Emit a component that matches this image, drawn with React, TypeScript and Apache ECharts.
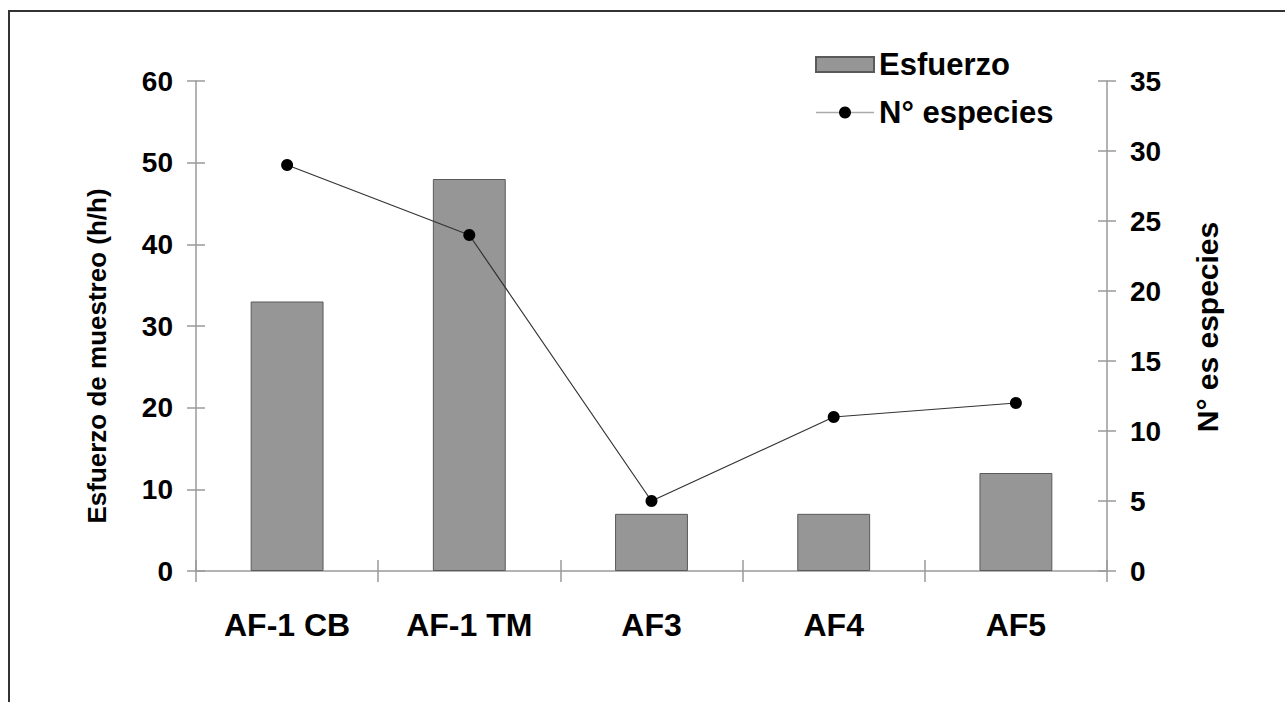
import React, { useEffect, useRef } from "react";
import * as echarts from "echarts";

const categories = ["AF-1 CB", "AF-1 TM", "AF3", "AF4", "AF5"];
const esfuerzo = [33, 48, 7, 7, 12];
const especies = [29, 24, 5, 11, 12];
const leftAxis = { min: 0, max: 60, interval: 10 };
const rightAxis = { min: 0, max: 35, interval: 5 };
const leftTitle = "Esfuerzo de muestreo (h/h)";
const rightTitle = "N° es especies";
const barName = "Esfuerzo";
const lineName = "N° especies";

const FONT = '"Liberation Sans", Arial, Helvetica, sans-serif';
const AXIS_COLOR = "#9a9a9a";

export default function App() {
  const ref = useRef<HTMLDivElement>(null);
  useEffect(() => {
    if (!ref.current) return;
    const chart = echarts.init(ref.current, undefined, { renderer: "svg" });
    const labelStyle = { color: "#000", fontWeight: "bold" as const, fontFamily: FONT };
    chart.setOption({
      animation: false,
      backgroundColor: "#fff",
      grid: { left: 196, right: 178, top: 81, bottom: 131, containLabel: false },
      legend: {
        orient: "vertical",
        left: 810,
        top: 44,
        itemWidth: 58,
        itemHeight: 15,
        itemGap: 17,
        textStyle: { ...labelStyle, fontSize: 31 },
        data: [
          { name: barName, icon: "rect" },
          { name: lineName, lineStyle: { color: "#aaaaaa", width: 1.5 } },
        ],
      },
      xAxis: [
        {
          type: "category",
          data: categories,
          position: "bottom",
          boundaryGap: true,
          axisLine: { show: true, lineStyle: { color: AXIS_COLOR, width: 1.5 } },
          axisTick: { show: true, inside: false, length: 11, lineStyle: { color: AXIS_COLOR, width: 1.5 } },
          axisLabel: { ...labelStyle, fontSize: 32, margin: 38 },
          splitLine: { show: false },
        },
        {
          type: "category",
          data: categories,
          position: "bottom",
          boundaryGap: true,
          axisLine: { show: false },
          axisTick: { show: true, inside: true, length: 11, lineStyle: { color: AXIS_COLOR, width: 1.5 } },
          axisLabel: { show: false },
          splitLine: { show: false },
        },
      ],
      yAxis: [
        {
          type: "value",
          position: "left",
          ...leftAxis,
          axisLine: { show: true, lineStyle: { color: AXIS_COLOR, width: 1.5 } },
          axisTick: { show: true, inside: false, length: 9, lineStyle: { color: AXIS_COLOR, width: 1.5 } },
          axisLabel: { ...labelStyle, fontSize: 28, margin: 23 },
          splitLine: { show: false },
        },
        {
          type: "value",
          position: "right",
          ...rightAxis,
          axisLine: { show: true, lineStyle: { color: AXIS_COLOR, width: 1.5 } },
          axisTick: { show: true, inside: false, length: 9, lineStyle: { color: AXIS_COLOR, width: 1.5 } },
          axisLabel: { ...labelStyle, fontSize: 28, margin: 23 },
          splitLine: { show: false },
        },
        {
          type: "value",
          position: "left",
          ...leftAxis,
          axisLine: { show: false },
          axisTick: { show: true, inside: true, length: 9, lineStyle: { color: AXIS_COLOR, width: 1.5 } },
          axisLabel: { show: false },
          splitLine: { show: false },
        },
        {
          type: "value",
          position: "right",
          ...rightAxis,
          axisLine: { show: false },
          axisTick: { show: true, inside: true, length: 9, lineStyle: { color: AXIS_COLOR, width: 1.5 } },
          axisLabel: { show: false },
          splitLine: { show: false },
        },
      ],
      series: [
        {
          name: barName,
          type: "bar",
          xAxisIndex: 0,
          yAxisIndex: 0,
          data: esfuerzo,
          barWidth: "40%",
          itemStyle: { color: "#969696", borderColor: "#5a5a5a", borderWidth: 1 },
        },
        {
          name: lineName,
          type: "line",
          xAxisIndex: 0,
          yAxisIndex: 1,
          data: especies,
          symbol: "circle",
          symbolSize: 12,
          lineStyle: { color: "#333", width: 1.2 },
          itemStyle: { color: "#000" },
        },
      ],
      graphic: [
        {
          type: "rect",
          shape: { x: 9, y: 11, width: 1400, height: 800 },
          style: { fill: "none", stroke: "#333", lineWidth: 2 },
          silent: true,
        },
        {
          type: "text",
          x: 97,
          y: 356,
          rotation: Math.PI / 2,
          style: {
            text: leftTitle,
            fontSize: 26,
            fontWeight: "bold",
            fontFamily: FONT,
            fill: "#000",
            align: "center",
            verticalAlign: "middle",
          },
        },
        {
          type: "text",
          x: 1207,
          y: 327,
          rotation: Math.PI / 2,
          style: {
            text: rightTitle,
            fontSize: 30,
            fontWeight: "bold",
            fontFamily: FONT,
            fill: "#000",
            align: "center",
            verticalAlign: "middle",
          },
        },
      ],
    });
    return () => chart.dispose();
  }, []);
  return (
    <div
      ref={ref}
      style={{ position: "fixed", left: 0, top: 0, width: 1285, height: 702, background: "#fff" }}
    />
  );
}
